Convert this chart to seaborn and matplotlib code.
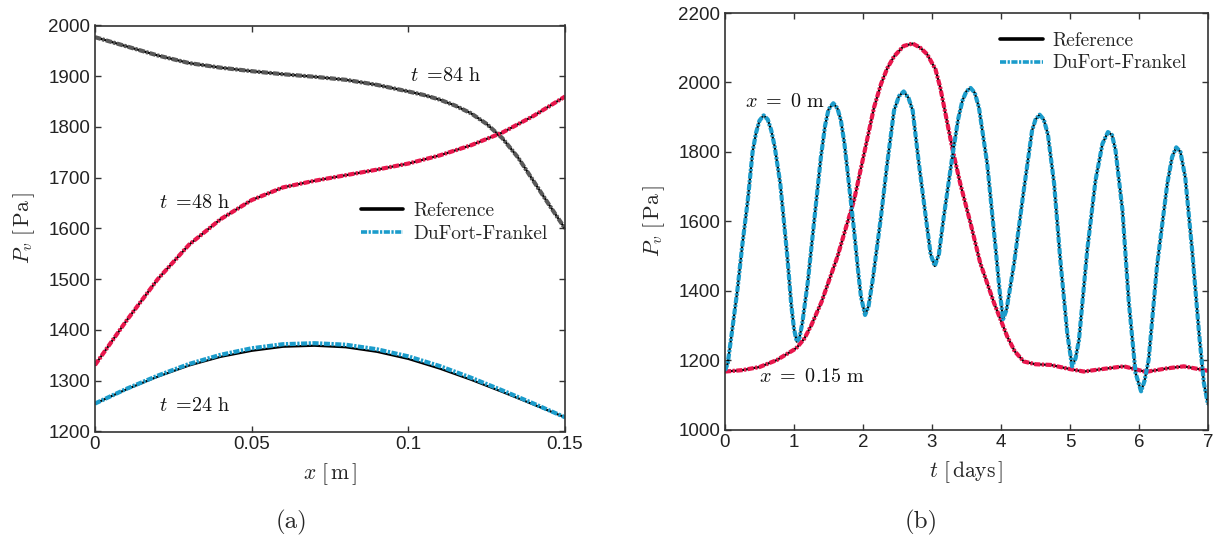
import matplotlib
matplotlib.use("Agg")
import matplotlib.pyplot as plt
from matplotlib.lines import Line2D
import seaborn as sns

# ---- (a) vapour pressure profiles across the wall ----
x_m = [0, 0.01, 0.02, 0.03, 0.04, 0.05, 0.06, 0.07, 0.08, 0.09, 0.10,
       0.11, 0.12, 0.13, 0.14, 0.15]
pv_24h_ref = [1255, 1283, 1308, 1330, 1347, 1359, 1367, 1369, 1366, 1357,
              1343, 1324, 1302, 1278, 1253, 1228]
pv_24h_df = [1255, 1284, 1310, 1333, 1351, 1364, 1372, 1374, 1371, 1362,
             1348, 1329, 1306, 1281, 1255, 1228]
pv_48h = [1331, 1418, 1500, 1568, 1618, 1656, 1681, 1694, 1705, 1716,
          1728, 1744, 1764, 1789, 1822, 1860]
x_m_84h = [0, 0.01, 0.02, 0.03, 0.04, 0.05, 0.06, 0.07, 0.08, 0.09, 0.10,
           0.105, 0.11, 0.115, 0.12, 0.125, 0.13, 0.135, 0.14, 0.145, 0.15]
pv_84h = [1977, 1959, 1941, 1926, 1917, 1910, 1904, 1899, 1893, 1883,
          1870, 1863, 1854, 1842, 1827, 1806, 1778, 1740, 1693, 1646, 1600]

# ---- (b) vapour pressure history at both faces ----
t_x0 = [0.0, 0.04, 0.1, 0.18, 0.25, 0.33, 0.4, 0.45, 0.5, 0.56, 0.62, 0.67,
        0.72, 0.8, 0.9, 0.96, 1.0, 1.04, 1.08, 1.12, 1.2, 1.3, 1.39, 1.45,
        1.5, 1.57, 1.63, 1.68, 1.73, 1.78, 1.87, 1.93, 1.97, 2.03, 2.08,
        2.14, 2.26, 2.35, 2.45, 2.52, 2.59, 2.66, 2.72, 2.81, 2.91, 2.98,
        3.04, 3.1, 3.17, 3.3, 3.38, 3.44, 3.5, 3.56, 3.62, 3.68, 3.8, 3.92,
        3.98, 4.03, 4.08, 4.19, 4.33, 4.45, 4.5, 4.56, 4.62, 4.68, 4.77,
        4.86, 4.96, 5.03, 5.08, 5.13, 5.25, 5.37, 5.47, 5.55, 5.61, 5.66,
        5.76, 5.85, 5.95, 6.03, 6.08, 6.14, 6.26, 6.41, 6.48, 6.54, 6.6,
        6.67, 6.77, 6.87, 6.94, 7.0]
pv_x0 = [1170, 1191, 1280, 1402, 1530, 1660, 1800, 1855, 1890, 1905, 1893,
         1862, 1815, 1710, 1505, 1360, 1290, 1253, 1265, 1306, 1425, 1615,
         1785, 1875, 1922, 1940, 1925, 1890, 1825, 1737, 1574, 1455, 1383,
         1330, 1355, 1430, 1612, 1765, 1919, 1960, 1974, 1955, 1919, 1766,
         1612, 1505, 1471, 1505, 1612, 1794, 1895, 1947, 1975, 1984, 1970,
         1928, 1766, 1526, 1400, 1318, 1345, 1479, 1689, 1861, 1893, 1907,
         1893, 1850, 1708, 1488, 1278, 1182, 1205, 1258, 1517, 1718, 1823,
         1857, 1848, 1804, 1632, 1373, 1163, 1110, 1140, 1201, 1469, 1708,
         1785, 1813, 1800, 1727, 1517, 1278, 1134, 1072]
t_x015 = [0.0, 0.25, 0.5, 0.75, 1.0, 1.05, 1.15, 1.25, 1.4, 1.5, 1.63, 1.75,
          1.87, 2.0, 2.16, 2.26, 2.35, 2.45, 2.59, 2.72, 2.83, 2.93, 3.05,
          3.12, 3.2, 3.3, 3.41, 3.56, 3.7, 3.9, 4.09, 4.2, 4.33, 4.5, 4.72,
          5.0, 5.2, 5.5, 5.78, 6.1, 6.4, 6.65, 7.0]
pv_x015 = [1167, 1171, 1180, 1200, 1230, 1238, 1262, 1300, 1368, 1425, 1498,
           1580, 1660, 1780, 1928, 1995, 2040, 2075, 2105, 2112, 2100, 2081,
           2038, 1985, 1905, 1805, 1708, 1593, 1479, 1364, 1268, 1225, 1196,
           1188, 1186, 1174, 1167, 1175, 1182, 1166, 1176, 1182, 1169]

black = "#000000"
cyan = "#1b9ccb"
crimson = "#e8164c"
grey = "#595959"
spine_col = "#333333"

sns.set_style("ticks")
plt.rcParams.update({
    "font.family": ["Liberation Sans", "DejaVu Sans"],
    "mathtext.fontset": "cm",
    "lines.scale_dashes": False,
    "xtick.direction": "in",
    "ytick.direction": "in",
    "xtick.top": True,
    "ytick.right": True,
    "xtick.major.size": 4.5,
    "ytick.major.size": 4.5,
    "xtick.major.width": 1.0,
    "ytick.major.width": 1.0,
    "xtick.color": spine_col,
    "ytick.color": spine_col,
    "xtick.labelcolor": "#222222",
    "ytick.labelcolor": "#222222",
    "axes.edgecolor": spine_col,
    "axes.linewidth": 1.2,
    "xtick.labelsize": 13.5,
    "ytick.labelsize": 13.5,
})

dashdot = (0, (4.4, 1.1, 1.6, 1.1))
REF_LW = 1.6
DF_LW = 3.0

fig = plt.figure(figsize=(12.15, 5.4), dpi=100)
ax_a = fig.add_axes([95 / 1215, 1 - 431.5 / 540, 470 / 1215, 406 / 540])
ax_b = fig.add_axes([725 / 1215, 1 - 429.5 / 540, 483 / 1215, 416.5 / 540])


def pair(ax, x, y_ref, y_df, color):
    sns.lineplot(x=x, y=y_ref, ax=ax, color=black, lw=REF_LW,
                 estimator=None, sort=False)
    sns.lineplot(x=x, y=y_df, ax=ax, color=color, lw=DF_LW,
                 linestyle=dashdot, estimator=None, sort=False)


# panel (a)
pair(ax_a, x_m_84h, pv_84h, pv_84h, grey)
pair(ax_a, x_m, pv_48h, pv_48h, crimson)
pair(ax_a, x_m, pv_24h_ref, pv_24h_df, cyan)

ax_a.set_xlim(0, 0.15)
ax_a.set_ylim(1200, 2000)
ax_a.set_xticks([0, 0.05, 0.1, 0.15])
ax_a.set_xticklabels(["0", "0.05", "0.1", "0.15"])
ax_a.set_yticks(range(1200, 2001, 100))
ax_a.set_xlabel(r"$x\ [\,\mathrm{m}\,]$", fontsize=15.5, labelpad=6)
ax_a.set_ylabel(r"$P_v\ [\,\mathrm{Pa}\,]$", fontsize=15.5, labelpad=8)

ann = dict(fontsize=14.5, va="center", ha="left", color="#111111")
ax_a.text(0.1005, 1901, r"$t\ =\!84\ \mathrm{h}$", **ann)
ax_a.text(0.0205, 1651, r"$t\ =\!48\ \mathrm{h}$", **ann)
ax_a.text(0.0205, 1251, r"$t\ =\!24\ \mathrm{h}$", **ann)

# panel (b)
pair(ax_b, t_x015, pv_x015, pv_x015, crimson)
pair(ax_b, t_x0, pv_x0, pv_x0, cyan)

ax_b.set_xlim(0, 7)
ax_b.set_ylim(1000, 2200)
ax_b.set_xticks(range(0, 8))
ax_b.set_yticks(range(1000, 2201, 200))
ax_b.set_xlabel(r"$t\ [\,\mathrm{days}\,]$", fontsize=15.5, labelpad=6)
ax_b.set_ylabel(r"$P_v\ [\,\mathrm{Pa}\,]$", fontsize=15.5, labelpad=8)

ax_b.text(0.29, 1945, r"$x\ =\ 0\ \mathrm{m}$", **ann)
ax_b.text(0.50, 1152, r"$x\ =\ 0.15\ \mathrm{m}$", **ann)

# legends
handles = [Line2D([], [], color=black, lw=2.6),
           Line2D([], [], color=cyan, lw=2.6, linestyle=dashdot)]
labels = ["Reference", "DuFort-Frankel"]
leg_kw = dict(frameon=False, loc="upper left", handlelength=2.2,
              handletextpad=0.5, labelspacing=0.25, borderaxespad=0,
              borderpad=0, prop={"family": "cmr10", "size": 14})
ax_a.legend(handles, labels, bbox_to_anchor=(0.565, 0.565), **leg_kw)
ax_b.legend(handles, labels, bbox_to_anchor=(0.57, 0.955), **leg_kw)

for ax in (ax_a, ax_b):
    for s in ax.spines.values():
        s.set_visible(True)

fig.text(292 / 1215, 1 - 522 / 540, "(a)", fontsize=18, family="cmr10",
         ha="center", va="center")
fig.text(921 / 1215, 1 - 522 / 540, "(b)", fontsize=18, family="cmr10",
         ha="center", va="center")

fig.savefig("out.png", dpi=100)
